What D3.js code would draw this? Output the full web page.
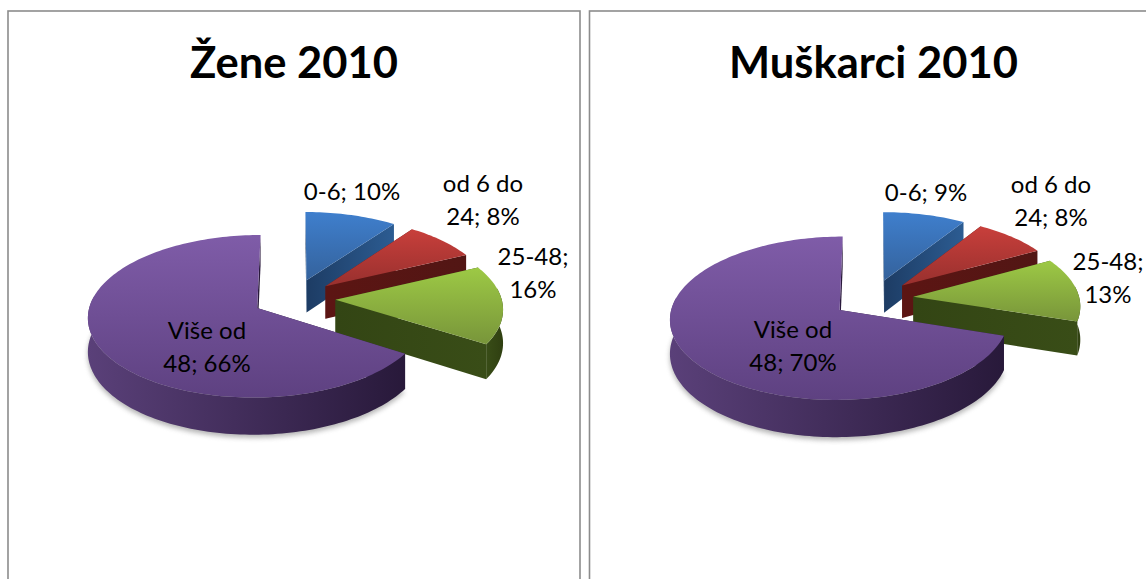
<!DOCTYPE html>
<html>
<head>
<meta charset="utf-8">
<script src="https://cdn.jsdelivr.net/npm/d3@7"></script>
<style>
html,body{margin:0;padding:0;background:#fff;overflow:hidden}
svg{display:block}
text{font-family:Lato,"Open Sans",sans-serif;fill:#000}
</style>
</head>
<body>
<svg id="c" width="1146" height="579"></svg>
<script>
const categories = ["0-6", "od 6 do 24", "25-48", "Više od 48"];
const womenValues = [10, 8, 16, 66];
const menValues = [9, 8, 13, 70];
const titles = ["Žene 2010", "Muškarci 2010"];
const lineBreaks = [null, 7, 6, 7];

const palette = [
  {top:["#3f7fcd","#34629c"], cut:["#1d3c64","#2c5c92"], side:["#1d3c64","#2c5c92"]},
  {top:["#c83f3b","#98302e"], cut:["#5c1513","#521614"], side:["#5c1513","#521614"]},
  {top:["#9dc945","#78953a"], cut:["#334514","#394d17"], side:["#394d17","#2f3f11"]},
  {top:["#7f5ca8","#5e4181"], cut:["#2a1a3c","#2a1a3c"], side:["#5a4079","#28193a"]}
];

const panels = [
  {x:8, w:572, cx:294, cy:298.5, title:294, explode:0.25, values:womenValues, name:titles[0],
   labels:[[352,200],[483,192],[533,265],[207,339]]},
  {x:589.5, w:600, cx:873, cy:298.5, title:873.5, explode:0.245, values:menValues, name:titles[1],
   labels:[[926,201],[1051,193],[1108,270],[793,338]]}
];

const rx = 166, ry = 78.5, persp = 0.10, depth = 33;

const svg = d3.select("#c");
const defs = svg.append("defs");
defs.append("filter").attr("id","soft").attr("x","-20%").attr("y","-20%").attr("width","140%").attr("height","140%")
  .append("feGaussianBlur").attr("stdDeviation",2.5);

palette.forEach((p,i)=>{
  const grad=(id,cols,vertical)=>{
    const g=defs.append("linearGradient").attr("id",id)
      .attr("x1",0).attr("y1",0).attr("x2",vertical?0:1).attr("y2",vertical?1:0);
    g.append("stop").attr("offset",0).attr("stop-color",cols[0]);
    g.append("stop").attr("offset",1).attr("stop-color",cols[1]);
  };
  grad("top"+i,p.top,true); grad("cut"+i,p.cut,false); grad("side"+i,p.side,false);
});

const pie = d3.pie().sort(null).value(d=>d);
const lineGen = d3.line();

function project(panel,u,v){
  const w = 1/(1-persp*v);
  return {x:panel.cx+rx*u*w, y:panel.cy+ry*v*w, d:depth*w};
}

panels.forEach(panel=>{
  const g = svg.append("g");
  g.append("rect").attr("x",panel.x).attr("y",11).attr("width",panel.w).attr("height",640)
    .attr("fill","#fff").attr("stroke","#8c8c8c").attr("stroke-width",1.6);

  g.append("text").attr("x",panel.title).attr("y",78).attr("text-anchor","middle")
    .attr("font-size",43.5).attr("font-weight",700).text(panel.name);

  const arcs = pie(panel.values);
  arcs.forEach((a,i)=>{
    const mid=(a.startAngle+a.endAngle)/2;
    const ox=panel.explode*Math.sin(mid), oy=-panel.explode*Math.cos(mid);
    const apex=project(panel,ox,oy);
    const n=Math.max(8,Math.ceil((a.endAngle-a.startAngle)*40));
    const rim=d3.range(n+1).map(k=>{
      const t=a.startAngle+(a.endAngle-a.startAngle)*k/n;
      return project(panel,ox+Math.sin(t),oy-Math.cos(t));
    });
    const top=pt=>[pt.x,pt.y], bot=pt=>[pt.x,pt.y+pt.d];
    const sg=g.append("g");

    if(i===3){
      const front=rim.filter(p=>p.y>panel.cy-30);
      sg.append("path").attr("d",lineGen(front.map(p=>[p.x,p.y+p.d+3]))+"Z")
        .attr("fill","#777").attr("opacity",.55).attr("filter","url(#soft)");
    }
    const first=rim[0], last=rim[rim.length-1];
    const face=e=>[top(apex),top(e),bot(e),bot(apex)];
    sg.append("path").attr("d",lineGen(face(first))+"Z").attr("fill",`url(#cut${i})`);
    sg.append("path").attr("d",lineGen(face(last))+"Z").attr("fill",`url(#cut${i})`);
    const front=rim.filter(p=>(p.y-apex.y)>-ry*0.15);
    if(front.length>1){
      sg.append("path").attr("d",lineGen([...front.map(top),...front.slice().reverse().map(bot)])+"Z")
        .attr("fill",`url(#side${i})`);
    }
    sg.append("path").attr("d",lineGen([top(apex),...rim.map(top)])+"Z").attr("fill",`url(#top${i})`);
  });

  panel.values.forEach((v,i)=>{
    const s=`${categories[i]}; ${v}%`;
    const b=lineBreaks[i];
    const lines=b?[s.slice(0,b),s.slice(b).trim()]:[s];
    const [lx,ly]=panel.labels[i];
    lines.forEach((t,k)=>{
      g.append("text").attr("x",lx).attr("y",ly+k*33).attr("text-anchor","middle")
        .attr("font-size",24).text(t);
    });
  });
});
</script>
</body>
</html>
